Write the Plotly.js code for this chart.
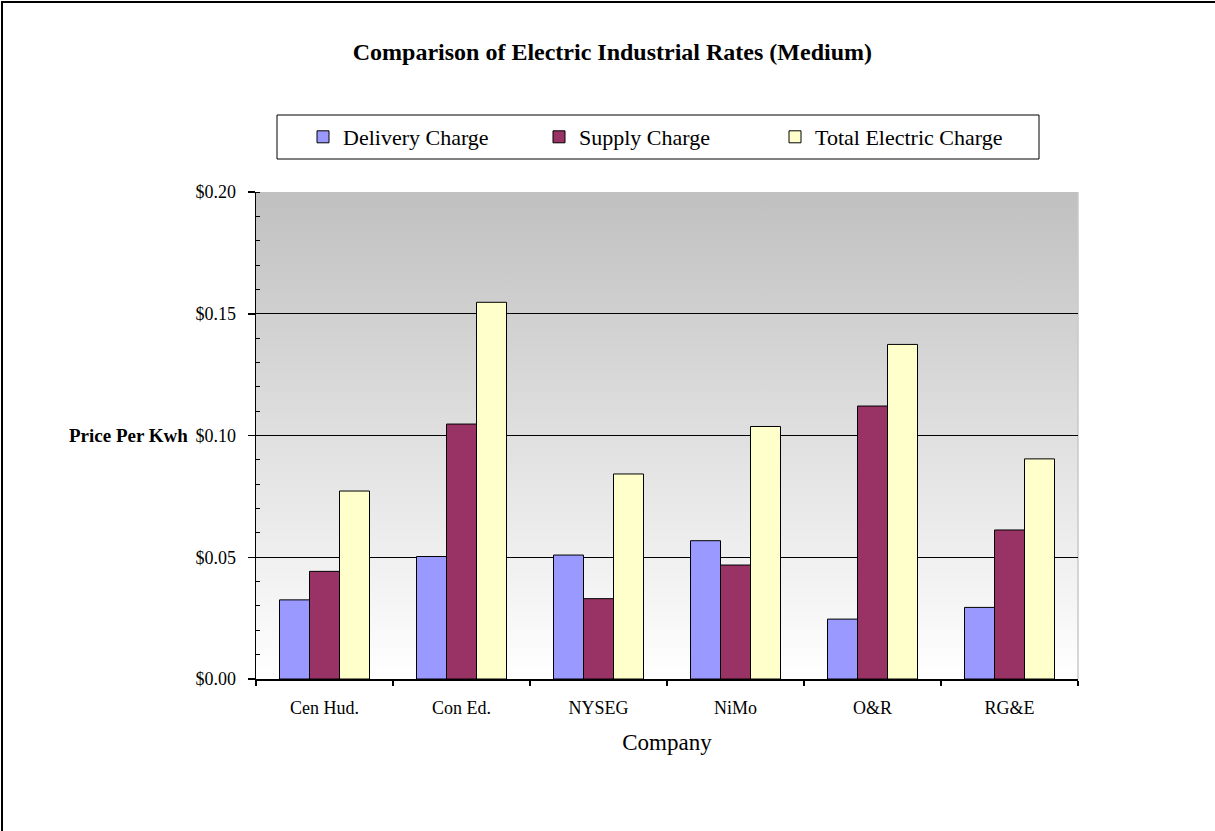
<!DOCTYPE html>
<html>
<head>
<meta charset="utf-8">
<script src="https://cdn.plot.ly/plotly-3.0.1.min.js"></script>
<style>
  html, body { margin: 0; padding: 0; background: #fff; }
  #wrap { position: relative; width: 1215px; height: 831px; overflow: hidden; }
  #chart { position: absolute; left: 0; top: 0; width: 1215px; height: 831px; }
  #frame { position: absolute; left: 1px; top: 1px; width: 1300px; height: 900px;
           border-left: 2px solid #000; border-top: 2px solid #000; pointer-events: none; }
</style>
</head>
<body>
<div id="wrap">
  <div id="chart"></div>
  <div id="frame"></div>
</div>
<script>
// ---- data ----
const companies = ["Cen Hud.", "Con Ed.", "NYSEG", "NiMo", "O&R", "RG&E"];
const deliveryCharge = [0.0325, 0.0503, 0.0509, 0.0568, 0.0246, 0.0294];
const supplyCharge   = [0.0442, 0.1047, 0.0330, 0.0468, 0.1121, 0.0612];
const totalCharge    = [0.0772, 0.1547, 0.0842, 0.1037, 0.1374, 0.0904];
const seriesNames = ["Delivery Charge", "Supply Charge", "Total Electric Charge"];
const yTickVals = [0, 0.05, 0.10, 0.15, 0.20];
const yTickText = ["$0.00", "$0.05", "$0.10", "$0.15", "$0.20"];

const serif = '"Liberation Serif", "Times New Roman", Times, serif';
const colors = ["#9999FF", "#993366", "#FFFFCC"];
const seriesValues = [deliveryCharge, supplyCharge, totalCharge];

const traces = seriesNames.map((name, i) => ({
  type: 'bar',
  name: name,
  x: companies,
  y: seriesValues[i],
  marker: { color: colors[i], line: { color: '#000', width: 1 } },
  hoverinfo: 'x+y+name'
}));

const gradSvg = '<svg xmlns="http://www.w3.org/2000/svg" width="100" height="100" preserveAspectRatio="none">' +
  '<defs><linearGradient id="g" x1="0" y1="0" x2="0" y2="1">' +
  '<stop offset="0" stop-color="#C0C0C0"/><stop offset="1" stop-color="#FFFFFF"/>' +
  '</linearGradient></defs><rect width="100" height="100" fill="url(#g)"/></svg>';

const W = 1215, H = 831;
const L = 256, R = 1078, T = 192, B = 679;
const pw = R - L, ph = B - T;
const px = v => (v - L) / pw;
const py = v => (B - v) / ph;

const layout = {
  width: W, height: H,
  margin: { l: L, r: W - R, t: T, b: H - B, pad: 0 },
  paper_bgcolor: '#FFFFFF',
  plot_bgcolor: 'rgba(0,0,0,0)',
  font: { family: serif, color: '#000' },
  title: {
    text: '<b>Comparison of Electric Industrial Rates (Medium)</b>',
    font: { family: serif, size: 24, color: '#000' },
    xref: 'container', x: 0.504, xanchor: 'center',
    yref: 'container', y: 1 - 52 / H, yanchor: 'middle'
  },
  barmode: 'group',
  bargap: 0.343,
  bargroupgap: 0,
  showlegend: true,
  legend: {
    orientation: 'h',
    xref: 'paper', yref: 'paper',
    x: px(303), xanchor: 'left',
    y: py(137), yanchor: 'middle',
    font: { family: serif, size: 22, color: '#000' },
    bgcolor: 'rgba(0,0,0,0)',
    borderwidth: 0,
    entrywidth: 191, entrywidthmode: 'pixels',
    traceorder: 'normal'
  },
  xaxis: {
    type: 'category',
    showline: true, linecolor: '#000', linewidth: 1.5,
    ticks: 'outside', ticklen: 5, tickcolor: '#000', tickwidth: 1.5,
    tickson: 'boundaries',
    showgrid: false, zeroline: false,
    tickfont: { family: serif, size: 18, color: '#000' },
    ticklabelstandoff: 12,
    title: { text: 'Company', font: { family: serif, size: 23, color: '#000' }, standoff: 17 },
    automargin: false
  },
  yaxis: {
    range: [0, 0.2],
    tickvals: yTickVals,
    ticktext: yTickText,
    showline: true, linecolor: '#000', linewidth: 1.5,
    ticks: 'outside', ticklen: 7, tickcolor: '#000', tickwidth: 1.5,
    showgrid: true, gridcolor: '#000', gridwidth: 1,
    zeroline: false,
    tickfont: { family: serif, size: 18, color: '#000' },
    ticklabelstandoff: 8,
    minor: { dtick: 0.01, ticks: 'inside', ticklen: 4, tickcolor: '#000', tickwidth: 1, showgrid: false },
    automargin: false
  },
  images: [{
    source: 'data:image/svg+xml;charset=utf-8,' + encodeURIComponent(gradSvg),
    xref: 'paper', yref: 'paper', x: 0, y: 1, sizex: 1, sizey: 1,
    xanchor: 'left', yanchor: 'top', sizing: 'stretch', layer: 'below'
  }],
  shapes: [
    { type: 'rect', xref: 'paper', yref: 'paper',
      x0: px(277), x1: px(1039), y0: py(159), y1: py(115),
      line: { color: '#000', width: 1 }, fillcolor: 'rgba(0,0,0,0)', layer: 'above' },
    { type: 'line', xref: 'paper', yref: 'paper', x0: 1, x1: 1, y0: 0, y1: 1,
      line: { color: '#C8C8C8', width: 1.5 }, layer: 'below' }
  ],
  annotations: [{
    text: '<b>Price Per Kwh</b>',
    xref: 'paper', x: px(190), xanchor: 'right',
    yref: 'y', y: 0.10, yanchor: 'middle',
    showarrow: false,
    font: { family: serif, size: 19, color: '#000' }
  }]
};

Plotly.newPlot('chart', traces, layout, { displayModeBar: false, staticPlot: true });
</script>
</body>
</html>
